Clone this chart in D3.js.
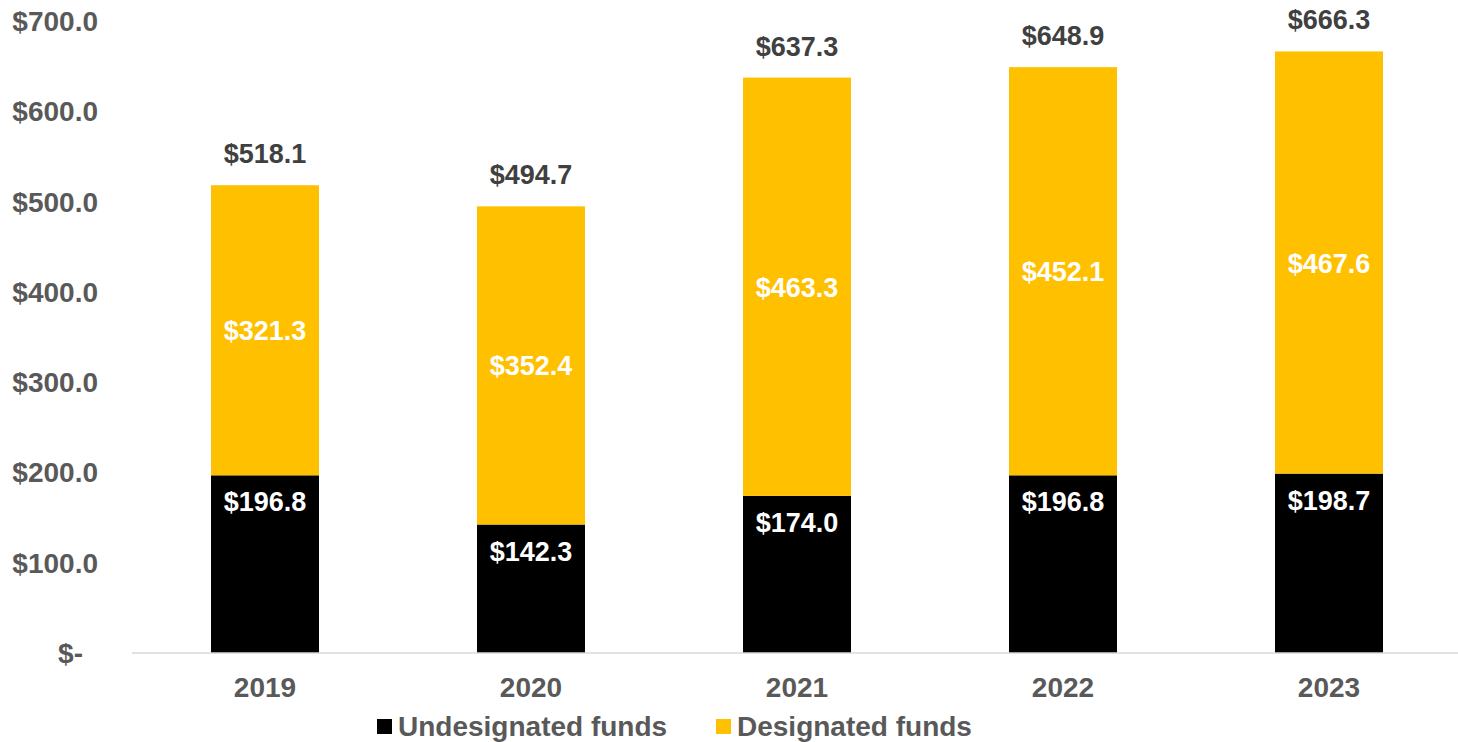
<!DOCTYPE html>
<html>
<head>
<meta charset="utf-8">
<script src="https://cdn.jsdelivr.net/npm/d3@7"></script>
<style>
  body { margin: 0; background: #fff; }
  svg { display: block; font-family: "Liberation Sans", Arial, sans-serif; font-weight: bold; }
</style>
</head>
<body>
<div id="chart"></div>
<script>
var years = ["2019", "2020", "2021", "2022", "2023"];
var undesignated = [196.8, 142.3, 174.0, 196.8, 198.7];
var designated = [321.3, 352.4, 463.3, 452.1, 467.6];
var totals = [518.1, 494.7, 637.3, 648.9, 666.3];
var yTicks = [0, 100, 200, 300, 400, 500, 600, 700];
var seriesNames = ["Undesignated funds", "Designated funds"];
var seriesColors = ["#000000", "#FFC000"];

var width = 1458, height = 742;

var svg = d3.select("#chart").append("svg")
    .attr("width", width)
    .attr("height", height);

var xScale = d3.scaleBand().domain(years).range([132, 1462]).paddingInner(0.594).paddingOuter(0.297);
var yScale = d3.scaleLinear().domain([0, 700]).range([653, 21]);

function money(v) { return "$" + v.toFixed(1); }

// y tick labels
svg.selectAll(".ytick")
    .data(yTicks)
    .enter().append("text")
    .attr("class", "ytick")
    .attr("x", function(d) { return d === 0 ? 83 : 98; })
    .attr("y", function(d) { return yScale(d) + 10; })
    .attr("text-anchor", "end")
    .style("font-size", "28px")
    .style("fill", "#595959")
    .text(function(d) { return d === 0 ? "$-" : money(d); });

// stacked data
var rows = years.map(function(y, i) {
  return { year: y, u: undesignated[i], d: designated[i], t: totals[i] };
});

var bx = function(d) { return xScale(d.year); };

// undesignated bars
svg.selectAll(".bar-u")
    .data(rows)
    .enter().append("rect")
    .attr("class", "bar-u")
    .attr("x", bx)
    .attr("width", xScale.bandwidth())
    .attr("y", function(d) { return yScale(d.u); })
    .attr("height", function(d) { return yScale(0) - yScale(d.u); })
    .style("fill", seriesColors[0]);

// designated bars
svg.selectAll(".bar-d")
    .data(rows)
    .enter().append("rect")
    .attr("class", "bar-d")
    .attr("x", bx)
    .attr("width", xScale.bandwidth())
    .attr("y", function(d) { return yScale(d.u + d.d); })
    .attr("height", function(d) { return yScale(d.u) - yScale(d.u + d.d); })
    .style("fill", seriesColors[1]);

// axis line
svg.append("line")
    .attr("x1", 132).attr("x2", 1458)
    .attr("y1", yScale(0)).attr("y2", yScale(0))
    .style("stroke", "#d9d9d9")
    .style("stroke-width", 1.5);

var cx = function(d) { return xScale(d.year) + xScale.bandwidth() / 2; };

// labels inside black
svg.selectAll(".lab-u")
    .data(rows)
    .enter().append("text")
    .attr("x", cx)
    .attr("y", function(d) { return yScale(d.u) + 36; })
    .attr("text-anchor", "middle")
    .style("font-size", "27px")
    .style("fill", "#fff")
    .text(function(d) { return money(d.u); });

// labels inside yellow
svg.selectAll(".lab-d")
    .data(rows)
    .enter().append("text")
    .attr("x", cx)
    .attr("y", function(d) { return yScale(d.u + d.d / 2) + 10; })
    .attr("text-anchor", "middle")
    .style("font-size", "27px")
    .style("fill", "#fff")
    .text(function(d) { return money(d.d); });

// totals
svg.selectAll(".lab-t")
    .data(rows)
    .enter().append("text")
    .attr("x", cx)
    .attr("y", function(d) { return yScale(d.t) - 22; })
    .attr("text-anchor", "middle")
    .style("font-size", "27px")
    .style("fill", "#404040")
    .text(function(d) { return money(d.t); });

// year labels
svg.selectAll(".xtick")
    .data(years)
    .enter().append("text")
    .attr("x", function(d) { return xScale(d) + xScale.bandwidth() / 2; })
    .attr("y", 697)
    .attr("text-anchor", "middle")
    .style("font-size", "28px")
    .style("fill", "#595959")
    .text(function(d) { return d; });

// legend
var legendX = [377, 716];
var legend = svg.selectAll(".legend")
    .data(seriesNames)
    .enter().append("g")
    .attr("transform", function(d, i) { return "translate(" + legendX[i] + ",719)"; });

legend.append("rect")
    .attr("width", 15).attr("height", 15)
    .style("fill", function(d, i) { return seriesColors[i]; });

legend.append("text")
    .attr("x", 21)
    .attr("y", 17)
    .style("font-size", "28px")
    .style("fill", "#595959")
    .text(function(d) { return d; });
</script>
</body>
</html>
